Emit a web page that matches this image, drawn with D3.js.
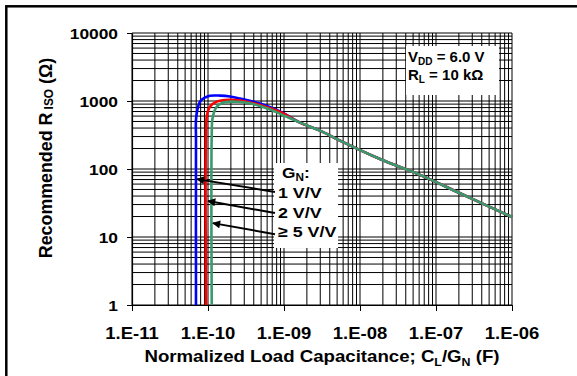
<!DOCTYPE html>
<html><head><meta charset="utf-8">
<script src="https://cdn.jsdelivr.net/npm/d3@7"></script>
<style>
html,body{margin:0;padding:0;background:#fff;}
svg{display:block;font-family:"Liberation Sans",Arial,sans-serif;font-weight:bold;}
</style></head>
<body>
<svg id="chart" width="577" height="376"></svg>
<script>
// ---- data ----
const xTickValues = [1e-11, 1e-10, 1e-9, 1e-8, 1e-7, 1e-6];
const xTickLabels = ["1.E-11", "1.E-10", "1.E-09", "1.E-08", "1.E-07", "1.E-06"];
const yTickValues = [1, 10, 100, 1000, 10000];
const yTickLabels = ["1", "10", "100", "1000", "10000"];

// common high-capacitance tail (all gains overlap)
const tailC = [1.63e-9, 2.98e-9, 5.46e-9, 1.83e-8, 6.15e-8, 2.07e-7, 1e-6];
const tailR = [480, 366, 261, 140, 82, 44, 19.7];

const g1C = [6.95e-11, 6.95e-11, 7.0e-11, 7.85e-11, 9.14e-11, 1.06e-10, 1.44e-10, 1.95e-10, 2.64e-10, 4.83e-10, 8.87e-10];
const g1R = [1, 267, 582, 977, 1125, 1197, 1200, 1164, 1088, 918, 700];
const g2C = [9.42e-11, 9.42e-11, 9.7e-11, 1.06e-10, 1.30e-10, 1.67e-10, 2.27e-10, 3.23e-10, 4.83e-10, 8.87e-10];
const g2R = [1, 375, 622, 824, 977, 1035, 1035, 977, 873, 690];
const g5C = [1.12e-10, 1.12e-10, 1.15e-10, 1.30e-10, 1.57e-10, 2.39e-10, 3.57e-10, 5.92e-10, 1.09e-9];
const g5R = [1, 316, 562, 824, 944, 977, 925, 782, 587];

const seriesNames = ["1 V/V", "2 V/V", "\u2265 5 V/V"];
const seriesColors = ["#0000ff", "#ff0000", "#3a9a6a"];

// arrows: [tail C, tail R, tip C, tip R]
const arrowTailC = [7.6e-10, 7.6e-10, 7.6e-10];
const arrowTailR = [46, 22.5, 11];
const arrowTipC = [7.16e-11, 1.0e-10, 1.16e-10];
const arrowTipR = [71, 33.8, 16];

// ---- layout ----
const svg = d3.select("#chart");
const L = 132, R = 512, T = 33, B = 305;
const x = d3.scaleLog().domain([1e-11, 1e-6]).range([L, R]);
const y = d3.scaleLog().domain([1, 10000]).range([B, T]);

// outer frame (extends past the image on right/bottom)
svg.append("rect").attr("x", 6.3).attr("y", 6.3).attr("width", 600).attr("height", 400)
  .attr("fill", "none").attr("stroke", "#000").attr("stroke-width", 2.5);

// grid
const grid = svg.append("g");
const minorX = [];
for (let e = -11; e < -6; e++) for (let k = 1; k <= 9; k++) minorX.push(k * Math.pow(10, e));
minorX.push(1e-6);
const minorY = [];
for (let e = 0; e < 4; e++) for (let k = 1; k <= 9; k++) minorY.push(k * Math.pow(10, e));
minorY.push(10000);
grid.selectAll(".vx").data(minorX).join("line")
  .attr("x1", d => x(d)).attr("x2", d => x(d)).attr("y1", T).attr("y2", B)
  .attr("stroke", "#000").attr("stroke-width", 1);
grid.selectAll(".hy").data(minorY).join("line")
  .attr("y1", d => y(d)).attr("y2", d => y(d)).attr("x1", L).attr("x2", R)
  .attr("stroke", "#000").attr("stroke-width", 1);

// axes
const xAxis = d3.axisBottom(x).tickValues(xTickValues).tickFormat((d, i) => "").tickSize(6).tickSizeOuter(0);
const yAxis = d3.axisLeft(y).tickValues(yTickValues).tickFormat((d, i) => "").tickSize(5).tickSizeOuter(0);
const gx = svg.append("g").attr("transform", `translate(0,${B})`).call(xAxis);
const gy = svg.append("g").attr("transform", `translate(${L},0)`).call(yAxis);
[gx, gy].forEach(g => { g.select(".domain").attr("stroke", "#000").attr("stroke-width", 1.2); g.selectAll(".tick line").attr("stroke", "#000"); });

function stext(px, py, anchor, sx, size) {
  const g = svg.append("g").attr("transform", `translate(${px},${py}) scale(${sx},1)`);
  return g.append("text").attr("text-anchor", anchor).attr("font-size", size).attr("fill", "#000");
}
xTickValues.forEach((v, i) => stext(x(v), 339, "middle", 1.12, 16.5).text(xTickLabels[i]));
yTickValues.forEach((v, i) => stext(118, y(v) + 5.5, "end", 1.12, 15.5).text(yTickLabels[i]));

// x title
const xt = stext((L + R) / 2, 362, "middle", 1.13, 16.5);
xt.append("tspan").text("Normalized Load Capacitance; C");
xt.append("tspan").attr("font-size", 11).attr("dy", 4).text("L");
xt.append("tspan").attr("dy", -4).text("/G");
xt.append("tspan").attr("font-size", 11).attr("dy", 4).text("N");
xt.append("tspan").attr("dy", -4).text(" (F)");

// y title
const ytG = svg.append("g").attr("transform", `translate(52,${(T + B) / 2 - 11}) rotate(-90) scale(1.08,1.08)`);
const yt = ytG.append("text").attr("text-anchor", "middle").attr("font-size", 16.5);
yt.append("tspan").text("Recommended R");
yt.append("tspan").attr("font-size", 11).attr("dx", 3).attr("dy", 1).text("ISO");
yt.append("tspan").attr("dy", -1).text(" (\u03A9)");

// curves
const toPts = (C, Rv) => C.map((c, i) => [c, Rv[i]]);
const tail = toPts(tailC, tailR);
const series = [toPts(g1C, g1R).concat(tail), toPts(g2C, g2R).concat(tail), toPts(g5C, g5R).concat(tail)];
const line = d3.line().x(d => x(d[0])).y(d => y(d[1])).curve(d3.curveCatmullRom.alpha(0.5));
svg.append("g").selectAll("path").data(series).join("path")
  .attr("d", line).attr("fill", "none").attr("stroke", (d, i) => seriesColors[i])
  .attr("stroke-width", 2.6).attr("stroke-linejoin", "round");

// condition box
const bx = 406, by = 46;
svg.append("rect").attr("x", bx).attr("y", by).attr("width", 93).attr("height", 49).attr("fill", "#fff");
const t1 = stext(bx + 2, by + 16, "start", 1, 15);
t1.append("tspan").text("V");
t1.append("tspan").attr("font-size", 10).attr("dy", 3).text("DD");
t1.append("tspan").attr("dy", -3).text(" = 6.0 V");
const t2 = stext(bx + 2, by + 34, "start", 1, 15);
t2.append("tspan").text("R");
t2.append("tspan").attr("font-size", 10).attr("dy", 3).text("L");
t2.append("tspan").attr("dy", -3).text(" = 10 k\u03A9");

// legend box
const lx = 274, ly = 163;
svg.append("rect").attr("x", lx).attr("y", ly).attr("width", 64).attr("height", 85).attr("fill", "#fff");
const gn = stext(lx + 8, ly + 15, "start", 1.12, 15.5);
gn.append("tspan").text("G");
gn.append("tspan").attr("font-size", 10.5).attr("dy", 3).text("N");
gn.append("tspan").attr("dy", -3).text(":");
seriesNames.forEach((n, i) => stext(lx + 4, ly + 35 + i * 19.5, "start", 1.15, 15.5).text(n));

// arrows
const defs = svg.append("defs");
defs.append("marker").attr("id", "ah").attr("viewBox", "0 0 10 10").attr("refX", 9).attr("refY", 5)
  .attr("markerWidth", 4.5).attr("markerHeight", 4).attr("orient", "auto")
  .append("path").attr("d", "M0,0 L10,5 L0,10 Z").attr("fill", "#000");
svg.append("g").selectAll("line").data(arrowTailC).join("line")
  .attr("x1", (d, i) => x(arrowTailC[i])).attr("y1", (d, i) => y(arrowTailR[i]))
  .attr("x2", (d, i) => x(arrowTipC[i])).attr("y2", (d, i) => y(arrowTipR[i]))
  .attr("stroke", "#000").attr("stroke-width", 2).attr("marker-end", "url(#ah)");
</script>
</body></html>
